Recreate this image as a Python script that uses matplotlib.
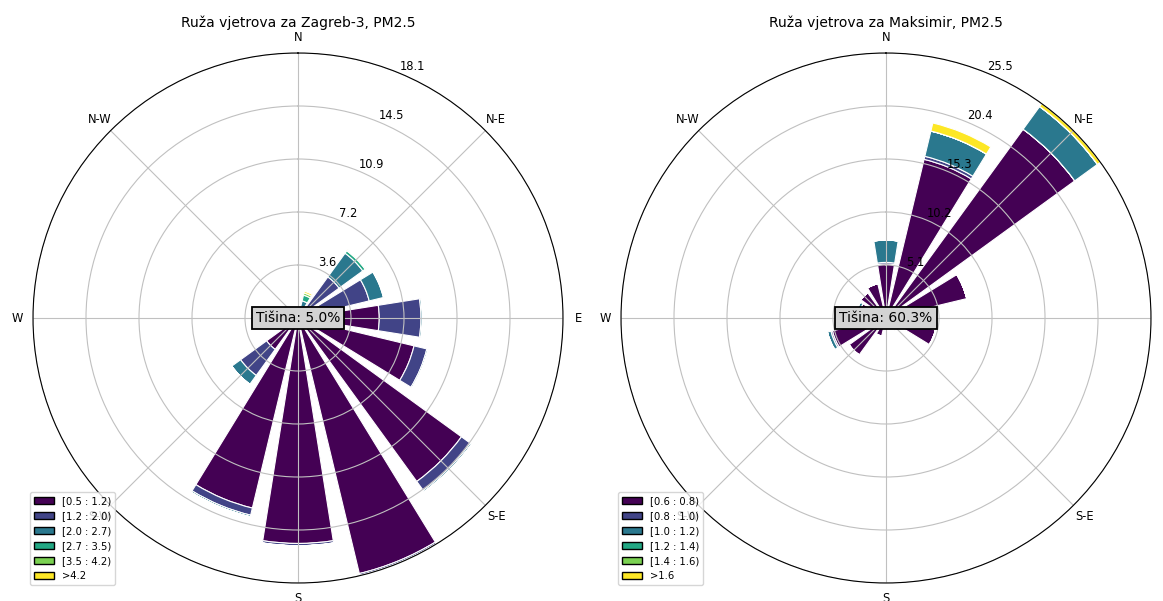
import numpy as np
import matplotlib
matplotlib.use("Agg")
import matplotlib.pyplot as plt
from matplotlib.patches import Patch

directions = ["N", "NNE", "NE", "ENE", "E", "ESE", "SE", "SSE",
              "S", "SSW", "SW", "WSW", "W", "WNW", "NW", "NNW"]

# frequency (%) per speed bin (rows) and direction (columns)
zagreb3_freq = [
    [0.3, 0.3, 0.5, 0.6, 5.55, 8.15, 13.8, 17.95, 15.4, 13.35, 2.65, 0.2, 0.15, 0.1, 0.1, 0.1],
    [0.0, 0.5, 2.97, 4.4, 2.85, 0.9, 0.75, 0.12, 0.15, 0.5, 2.2, 0.0, 0.0, 0.0, 0.0, 0.0],
    [0.0, 0.4, 2.0, 1.0, 0.1, 0.1, 0.12, 0.03, 0.02, 0.12, 0.75, 0.0, 0.0, 0.0, 0.0, 0.0],
    [0.0, 0.4, 0.2, 0.03, 0.02, 0.0, 0.0, 0.0, 0.0, 0.0, 0.0, 0.0, 0.0, 0.0, 0.0, 0.0],
    [0.0, 0.15, 0.08, 0.02, 0.0, 0.0, 0.0, 0.0, 0.0, 0.0, 0.0, 0.0, 0.0, 0.0, 0.0, 0.0],
    [0.0, 0.12, 0.02, 0.0, 0.0, 0.0, 0.0, 0.0, 0.0, 0.0, 0.0, 0.0, 0.0, 0.0, 0.0, 0.0],
]
zagreb3_bins = ["[0.5 : 1.2)", "[1.2 : 2.0)", "[2.0 : 2.7)", "[2.7 : 3.5)", "[3.5 : 4.2)", ">4.2"]
zagreb3_calm = 5.0

maksimir_freq = [
    [5.2, 15.7, 22.45, 8.0, 5.0, 4.9, 1.5, 1.0, 0.8, 1.8, 4.4, 5.3, 2.0, 2.6, 3.0, 3.4],
    [0.15, 0.3, 0.0, 0.0, 0.0, 0.0, 0.0, 0.0, 0.0, 0.0, 0.0, 0.15, 0.0, 0.0, 0.0, 0.0],
    [2.15, 2.5, 2.7, 0.0, 0.0, 0.0, 0.0, 0.0, 0.0, 0.0, 0.0, 0.35, 0.0, 0.3, 0.0, 0.0],
    [0.0, 0.0, 0.0, 0.0, 0.0, 0.0, 0.0, 0.0, 0.0, 0.0, 0.0, 0.0, 0.0, 0.0, 0.0, 0.0],
    [0.0, 0.0, 0.0, 0.0, 0.0, 0.0, 0.0, 0.0, 0.0, 0.0, 0.0, 0.0, 0.0, 0.0, 0.0, 0.0],
    [0.0, 0.8, 0.35, 0.0, 0.0, 0.0, 0.0, 0.0, 0.0, 0.0, 0.0, 0.0, 0.0, 0.0, 0.0, 0.0],
]
maksimir_bins = ["[0.6 : 0.8)", "[0.8 : 1.0)", "[1.0 : 1.2)", "[1.2 : 1.4)", "[1.4 : 1.6)", ">1.6"]
maksimir_calm = 60.3

theta_labels = ["N", "N-E", "E", "S-E", "S", "S-W", "W", "N-W"]


def windrose(ax, freq, bins, calm, title):
    freq = np.array(freq)
    colors = plt.cm.viridis(np.linspace(0, 1, len(bins)))
    theta = np.radians(np.arange(len(directions)) * 360 / len(directions))
    width = np.radians(360 / len(directions) * 0.8)
    ax.set_theta_zero_location("N")
    ax.set_theta_direction(-1)
    bottom = np.zeros(len(directions))
    for i in range(len(bins)):
        ax.bar(theta, freq[i], width=width, bottom=bottom, color=colors[i],
               edgecolor="white", linewidth=0.8)
        bottom = bottom + freq[i]
    rmax = bottom.max()
    ax.set_ylim(0, rmax)
    ticks = np.linspace(0, rmax, 6)[1:]
    ax.set_rgrids(ticks, ["%.1f" % t for t in ticks], angle=22.5, fontsize=8.3)
    ax.set_thetagrids(np.arange(0, 360, 45), theta_labels, fontsize=8.3)
    ax.tick_params(axis="x", pad=0.5)
    ax.grid(True, color="#c0c0c0", linewidth=0.8)
    ax.spines["polar"].set_linewidth(0.8)
    ax.set_title(title, fontsize=10, pad=3)
    ax.text(0, 0, "Tišina: %.1f%%" % calm, ha="center", va="center", fontsize=10,
            bbox=dict(boxstyle="square,pad=0.3", facecolor="lightgray", edgecolor="black",
                      linewidth=1.3), zorder=10)
    handles = [Patch(facecolor=c, edgecolor="black") for c in colors]
    ax.legend(handles, bins, loc="lower left", bbox_to_anchor=(-0.006, -0.004),
              borderaxespad=0, fontsize=7.2)


fig = plt.figure(figsize=(11.63, 6.01), dpi=100)
ax1 = fig.add_axes([33 / 1163, 18 / 601, 530 / 1163, 530 / 601], projection="polar")
ax2 = fig.add_axes([621 / 1163, 18 / 601, 530 / 1163, 530 / 601], projection="polar")
windrose(ax1, zagreb3_freq, zagreb3_bins, zagreb3_calm, "Ruža vjetrova za Zagreb-3, PM2.5")
windrose(ax2, maksimir_freq, maksimir_bins, maksimir_calm, "Ruža vjetrova za Maksimir, PM2.5")
fig.savefig("out.png", dpi=100)
